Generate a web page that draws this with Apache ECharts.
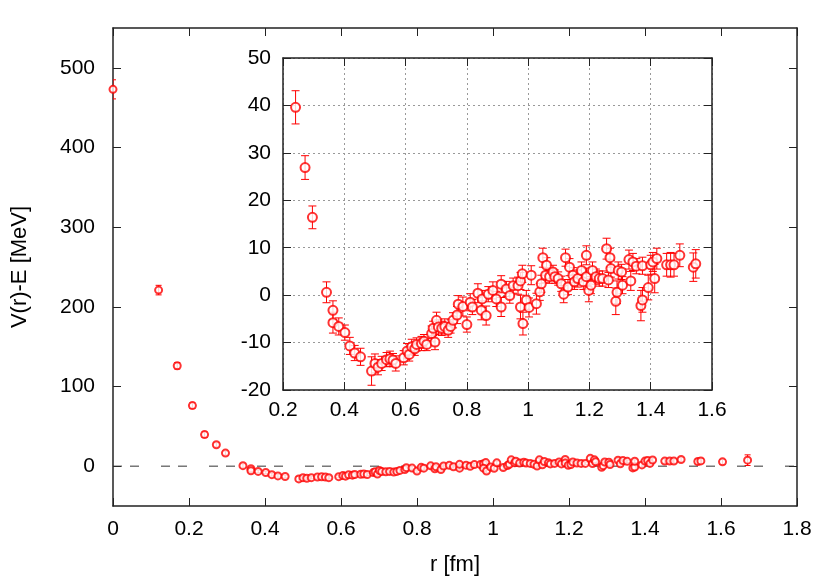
<!DOCTYPE html>
<html>
<head>
<meta charset="utf-8">
<script src="https://cdn.jsdelivr.net/npm/echarts@6/dist/echarts.min.js"></script>
<style>
  html, body { margin: 0; padding: 0; background: #fff; }
  #chart { width: 830px; height: 581px; }
</style>
</head>
<body>
<div id="chart"></div>
<script>
// r [fm], V(r)-E [MeV] and its error
var rVals = [
  0.0, 0.12, 0.169, 0.209,
  0.241, 0.272, 0.296, 0.342, 0.363, 0.363, 0.382, 0.402, 0.418, 0.434, 0.453,
  0.489, 0.500, 0.510, 0.522, 0.538, 0.549, 0.559, 0.568, 0.594, 0.605, 0.612,
  0.620, 0.630, 0.636, 0.652, 0.660, 0.669, 0.685, 0.690, 0.696, 0.701, 0.707,
  0.718, 0.728, 0.739, 0.747, 0.755, 0.768, 0.772, 0.787, 0.800, 0.811, 0.818,
  0.836, 0.847, 0.850, 0.863, 0.870, 0.885, 0.896, 0.912, 0.912, 0.929, 0.940,
  0.951, 0.967, 0.975, 0.981, 0.975, 0.983, 0.994, 1.003, 1.010, 1.027, 1.038,
  1.043, 1.048, 1.057, 1.060, 1.070, 1.081, 1.087, 1.098, 1.108, 1.116, 1.122,
  1.130, 1.135, 1.146, 1.151, 1.162, 1.174, 1.180, 1.190, 1.190, 1.198, 1.205,
  1.210, 1.221, 1.232, 1.243, 1.256, 1.262, 1.267, 1.270, 1.286, 1.290, 1.294,
  1.305, 1.308, 1.329, 1.335, 1.342, 1.353, 1.368, 1.373, 1.373, 1.392, 1.400,
  1.407, 1.413, 1.420, 1.452, 1.465, 1.476, 1.495, 1.539, 1.547,
  1.604, 1.670
];
var vVals = [
  473, 221, 126, 76,
  39.6, 26.9, 16.4, 0.6, -3.2, -5.8, -6.6, -7.9, -10.7, -12.2, -13.0,
  -16.0, -14.4, -15.2, -14.4, -13.6, -13.4, -13.7, -14.4, -13.2, -11.8, -12.5,
  -10.9, -11.3, -10.4, -10.2, -9.7, -10.4, -8.1, -7.0, -9.9, -5.3, -6.7,
  -7.0, -6.6, -7.4, -6.6, -5.3, -4.2, -1.9, -2.4, -6.2, -1.5, -2.5,
  0.4, -3.2, -0.8, -4.3, 0.2, 1.0, -0.8, -2.5, 2.3, 1.3, -0.1,
  2.0, 2.0, 3.0, 4.5, -2.5, -6.0, -1.0, -2.6, 4.2, -1.8, 0.7,
  2.4, 7.9, 4.2, 6.3, 3.9, 4.9, 3.9, 3.5, 2.4, 0.2, 7.9,
  1.7, 5.9, 4.2, 2.8, 3.5, 5.2, 2.8, 8.4, 3.9, 1.0, 2.1,
  5.2, 3.9, 3.5, 3.5, 9.8, 3.2, 7.9, 5.6, -1.3, 0.6, 5.2,
  4.9, 2.1, 7.5, 3.0, 7.0, 6.1, -2.2, -1.0, 6.2, 1.6, 6.4,
  7.0, 3.5, 7.7, 6.4, 6.4, 6.4, 8.4, 5.9, 6.6,
  5.4, 7.5
];
var eVals = [
  12, 6, 4, 3.5,
  3.5, 2.5, 2.4, 2.2, 2.0, 2.2, 1.8, 1.6, 1.8, 1.6, 1.8,
  3.0, 2.0, 1.6, 1.5, 1.5, 1.6, 1.4, 1.6, 1.5, 1.6, 1.4,
  1.6, 1.4, 1.4, 1.5, 1.4, 1.3, 1.6, 1.5, 1.6, 1.7, 1.5,
  1.5, 1.6, 1.5, 1.4, 1.6, 1.8, 1.8, 2.0, 1.6, 1.8, 1.6,
  2.0, 2.0, 1.8, 2.0, 1.6, 1.8, 1.6, 2.0, 1.8, 1.6, 1.6,
  1.6, 1.8, 1.8, 1.8, 2.5, 2.4, 2.0, 2.0, 2.0, 2.2, 1.8,
  1.8, 2.0, 1.6, 1.6, 1.4, 1.4, 1.4, 1.4, 1.6, 1.8, 1.8,
  1.6, 1.8, 1.6, 1.6, 1.8, 1.8, 1.6, 2.0, 1.8, 2.4, 1.8,
  1.8, 1.6, 1.6, 1.6, 2.2, 1.6, 2.0, 1.8, 2.8, 2.4, 1.8,
  1.6, 1.8, 2.0, 2.0, 1.8, 1.6, 3.2, 2.6, 1.8, 2.6, 2.0,
  2.0, 3.0, 2.2, 2.4, 2.6, 2.4, 2.4, 3.0, 3.0,
  3, 6.7
];

var mainYTicks = [0, 100, 200, 300, 400, 500];
var zeroLine = [[0, 0], [1.8, 0]];

var RED = '#ff0000';
var FONT = 'Liberation Sans';

var allPts = rVals.map(function (r, i) { return [r, vVals[i], eVals[i]]; });
var insetPts = allPts.filter(function (p) { return p[0] >= 0.2 && p[0] <= 1.6; });

function fmtTick(v) { return String(Math.round(v * 10) / 10); }

function errorBars(capHalf) {
  return function (params, api) {
    var x = api.value(0), y = api.value(1), e = api.value(2);
    var lo = api.coord([x, y - e]);
    var hi = api.coord([x, y + e]);
    var st = { stroke: RED, lineWidth: 1 };
    return {
      type: 'group',
      children: [
        { type: 'line', shape: { x1: lo[0], y1: lo[1], x2: hi[0], y2: hi[1] }, style: st },
        { type: 'line', shape: { x1: lo[0] - capHalf, y1: lo[1], x2: lo[0] + capHalf, y2: lo[1] }, style: st },
        { type: 'line', shape: { x1: hi[0] - capHalf, y1: hi[1], x2: hi[0] + capHalf, y2: hi[1] }, style: st }
      ]
    };
  };
}

var lineCol = '#222';
function frameAxis(extra) {
  var base = {
    type: 'value',
    axisLine: { show: true, onZero: false, lineStyle: { color: lineCol, width: 1.5 } },
    axisTick: { show: true, inside: true, length: 8, lineStyle: { color: lineCol, width: 1 } },
    axisLabel: { show: false },
    splitLine: { show: false }
  };
  return Object.assign(base, extra);
}
var labelStyle = { show: true, color: '#000', fontSize: 21, fontFamily: FONT };
var titleStyle = { color: '#000', fontSize: 22, fontFamily: FONT };

var chart = echarts.init(document.getElementById('chart'), null, { renderer: 'canvas' });

var option = {
  backgroundColor: '#fff',
  animation: false,
  grid: [
    { left: 113, right: 33, top: 28, bottom: 75, containLabel: false },
    { left: 283, right: 118, top: 58, bottom: 191, containLabel: false, show: true,
      backgroundColor: '#fff', borderWidth: 0, z: 5 }
  ],
  xAxis: [
    frameAxis({ gridIndex: 0, position: 'bottom', min: 0, max: 1.8, interval: 0.2,
      axisLabel: Object.assign({}, labelStyle, { margin: 13, formatter: fmtTick }),
      name: 'r [fm]', nameLocation: 'middle', nameGap: 48, nameTextStyle: titleStyle }),
    frameAxis({ gridIndex: 0, position: 'top', min: 0, max: 1.8, interval: 0.2 }),
    frameAxis({ gridIndex: 1, position: 'bottom', min: 0.2, max: 1.6, interval: 0.2, z: 6,
      axisLabel: Object.assign({}, labelStyle, { margin: 10, formatter: fmtTick }),
      splitLine: { show: true, lineStyle: { color: '#999', type: [2, 3], width: 1 } } }),
    frameAxis({ gridIndex: 1, position: 'top', min: 0.2, max: 1.6, interval: 0.2, z: 6 })
  ],
  yAxis: [
    frameAxis({ gridIndex: 0, position: 'left', min: -50, max: 550,
      axisTick: { show: true, inside: true, length: 8, customValues: mainYTicks,
        lineStyle: { color: lineCol, width: 1 } },
      axisLabel: Object.assign({}, labelStyle, { margin: 18, customValues: mainYTicks }),
      name: 'V(r)-E [MeV]', nameLocation: 'middle', nameGap: 82, nameRotate: 90,
      nameTextStyle: titleStyle }),
    frameAxis({ gridIndex: 0, position: 'right', min: -50, max: 550,
      axisTick: { show: true, inside: true, length: 8, customValues: mainYTicks,
        lineStyle: { color: lineCol, width: 1 } } }),
    frameAxis({ gridIndex: 1, position: 'left', min: -20, max: 50, interval: 10, z: 6,
      axisLabel: Object.assign({}, labelStyle, { margin: 12 }),
      splitLine: { show: true, lineStyle: { color: '#999', type: [2, 3], width: 1 } } }),
    frameAxis({ gridIndex: 1, position: 'right', min: -20, max: 50, interval: 10, z: 6 })
  ],
  series: [
    {
      type: 'line', xAxisIndex: 0, yAxisIndex: 0, data: zeroLine, symbol: 'none',
      lineStyle: { color: '#333', width: 1, type: [9, 8, 9, 22] }, silent: true, z: 1
    },
    {
      type: 'custom', xAxisIndex: 0, yAxisIndex: 0, data: allPts,
      renderItem: errorBars(3), clip: true, z: 2
    },
    {
      type: 'scatter', xAxisIndex: 0, yAxisIndex: 0, data: allPts,
      symbol: 'emptyCircle', symbolSize: 7,
      itemStyle: { color: RED, borderColor: RED, borderWidth: 0.9 }, z: 3
    },
    {
      type: 'custom', xAxisIndex: 2, yAxisIndex: 2, data: insetPts,
      renderItem: errorBars(4), clip: true, z: 7
    },
    {
      type: 'scatter', xAxisIndex: 2, yAxisIndex: 2, data: insetPts,
      symbol: 'emptyCircle', symbolSize: 9, clip: true,
      itemStyle: { color: RED, borderColor: RED, borderWidth: 0.9 }, z: 8
    }
  ]
};

chart.setOption(option);
</script>
</body>
</html>
